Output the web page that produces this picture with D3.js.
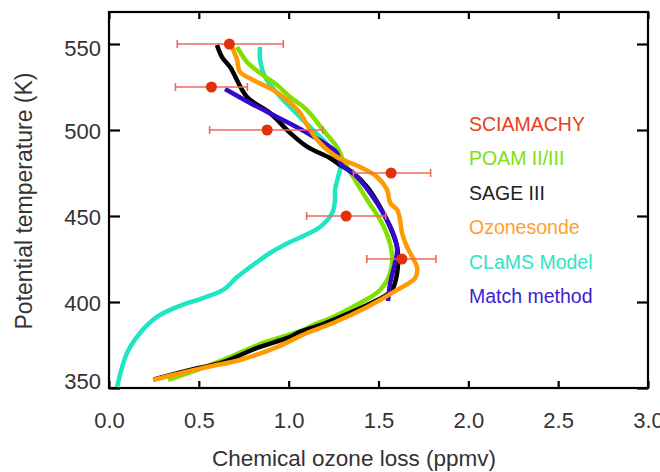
<!DOCTYPE html>
<html><head><meta charset="utf-8">
<script src="https://cdn.jsdelivr.net/npm/d3@7"></script>
<style>
html,body{margin:0;padding:0;background:#fff;}
svg{display:block;font-family:"Liberation Sans",Arial,Helvetica,sans-serif;}
</style></head>
<body>
<svg id="chart" width="660" height="472"></svg>
<script>
// ---- data ----
const xTicks = [0.0, 0.5, 1.0, 1.5, 2.0, 2.5, 3.0];
const yTicks = [350, 400, 450, 500, 550];

// SCIAMACHY: theta, loss, error low, error high
const sciaTheta = [550, 525, 500, 475, 450, 425];
const sciaLoss  = [0.67, 0.57, 0.88, 1.57, 1.32, 1.63];
const sciaLow   = [0.38, 0.37, 0.56, 1.36, 1.10, 1.435];
const sciaHigh  = [0.97, 0.77, 1.19, 1.79, 1.54, 1.82];

const poamLoss  = [0.713,0.768,0.841,0.935,1.008,1.102,1.192,1.269,1.303,1.359,1.437,1.509,1.553,1.576,1.565,1.509,1.398,1.247,1.136,1.080,0.857,0.674,0.490,0.329];
const poamTheta = [548.3,539.5,533.1,526.2,519.2,511.6,500.0,490.1,482.6,472.7,459.3,447.7,437.8,426.2,416.9,407.0,399.4,391.3,386.6,383.7,376.2,368.0,360.5,354.7];

const sageLoss  = [0.601,0.629,0.674,0.768,0.896,1.008,1.100,1.230,1.286,1.359,1.437,1.509,1.565,1.604,1.609,1.604,1.576,1.526,1.437,1.286,1.175,1.063,1.008,0.824,0.635,0.451,0.25];
const sageTheta = [549.4,542.4,536.6,519.2,509.9,498.3,490.5,483.7,479.7,475.0,466.9,455.2,443.6,432.0,424.4,416.9,407.0,402.9,398.3,391.3,386.6,382.6,379.7,373.3,365.1,360.5,355.0];

const sondeLoss  = [0.685,0.713,0.729,0.802,0.913,0.991,1.063,1.119,1.175,1.269,1.398,1.492,1.548,1.565,1.604,1.620,1.631,1.659,1.715,1.704,1.604,1.437,1.247,1.102,0.935,0.729,0.546,0.245];
const sondeTheta = [548.3,540.7,533.7,529.1,523.3,517.4,509.9,500.0,492.4,484.3,478.5,472.7,465.1,457.6,453.5,447.7,440.1,432.0,419.8,414.0,407.0,397.1,387.8,382.0,373.8,366.3,362.2,354.7];

const clamsLoss  = [0.841,0.841,0.869,0.935,1.024,1.119,1.192,1.247,1.286,1.275,1.258,1.258,1.242,1.175,1.063,0.980,0.896,0.785,0.713,0.635,0.523,0.379,0.267,0.173,0.100,0.045];
const clamsTheta = [548.3,540.7,530.8,521.5,511.6,501.7,494.2,486.6,478.5,472.7,465.1,459.3,451.7,443.6,437.5,433.5,428.5,420.3,414.5,407.0,402.3,397.1,391.3,382.0,370.3,350.6];

const matchLoss  = [0.646,0.785,0.935,1.102,1.269,1.286,1.381,1.453,1.526,1.581,1.604,1.592,1.565,1.553];
const matchTheta = [523.8,515.7,507.6,498.3,486.6,480.8,472.7,463.4,451.7,440.1,430.2,422.7,411.0,400.6];

const legendNames = ["SCIAMACHY", "POAM II/III", "SAGE III", "Ozonesonde", "CLaMS Model", "Match method"];
const legendColors = ["#e8401c", "#80e010", "#222222", "#ffa030", "#30e3c3", "#3a1ed2"];

// ---- chart ----
const svg = d3.select("#chart");
const L = 109, R = 648, T = 12, B = 388;
const x = d3.scaleLinear().domain([0, 3]).range([L, R]);
const y = d3.scaleLinear().domain([350, 568.6]).range([B, T]);

// frame
svg.append("rect").attr("x", L).attr("y", T).attr("width", R - L).attr("height", B - T)
  .attr("fill", "none").attr("stroke", "#000").attr("stroke-width", 2.2);

// ticks (inward)
const axB = d3.axisBottom(x).tickValues(xTicks).tickSizeInner(-7).tickSizeOuter(0).tickFormat(d3.format(".1f"));
const axT = d3.axisTop(x).tickValues(xTicks).tickSizeInner(-7).tickSizeOuter(0).tickFormat("");
const axL = d3.axisLeft(y).tickValues(yTicks).tickSizeInner(-11).tickSizeOuter(0).tickFormat(d3.format("d"));
const axR = d3.axisRight(y).tickValues(yTicks).tickSizeInner(-11).tickSizeOuter(0).tickFormat("");

function styleAxis(g){
  g.select(".domain").remove();
  g.selectAll(".tick line").attr("stroke", "#000").attr("stroke-width", 2.2);
  g.selectAll(".tick text").attr("fill", "#333").style("font-size", "22px");
}
svg.append("g").attr("transform", `translate(0,${B})`).call(axB).call(styleAxis)
  .selectAll(".tick text").attr("dy", null).attr("y", 40);
svg.append("g").attr("transform", `translate(0,${T})`).call(axT).call(styleAxis);
const gl = svg.append("g").attr("transform", `translate(${L},0)`).call(axL).call(styleAxis);
gl.selectAll(".tick text").attr("x", -8).attr("dy", "0.38em");
gl.selectAll(".tick").filter(d => d === 350).select("text").attr("y", -8);
gl.selectAll(".tick").filter(d => d === 550).select("text").attr("y", 3);
svg.append("g").attr("transform", `translate(${R},0)`).call(axR).call(styleAxis);

// axis titles
svg.append("text").attr("x", 354).attr("y", 466).attr("text-anchor", "middle")
  .attr("fill", "#333").style("font-size", "22.5px").text("Chemical ozone loss (ppmv)");
svg.append("text").attr("transform", "translate(32,201) rotate(-90)").attr("text-anchor", "middle")
  .attr("fill", "#333").style("font-size", "23px").text("Potential temperature (K)");

// lines
const line = d3.line().x(d => x(d[0])).y(d => y(d[1])).curve(d3.curveCatmullRom.alpha(0.5));
function series(loss, theta){ return loss.map((v, i) => [v, theta[i]]); }
const curves = [
  [series(clamsLoss, clamsTheta), "#1ee6c2"],
  [series(poamLoss, poamTheta), "#80e000"],
  [series(sageLoss, sageTheta), "#000000"],
  [series(matchLoss, matchTheta), "#3608cc"],
  [series(sondeLoss, sondeTheta), "#ff9a00"]
];
curves.forEach(([data, col]) => {
  svg.append("path").datum(data).attr("d", line).attr("fill", "none")
    .attr("stroke", col).attr("stroke-width", 4.5).attr("stroke-linejoin", "round");
});

// SCIAMACHY error bars and points
const eb = svg.append("g").attr("stroke", "#ee6a58").attr("stroke-width", 1.6);
sciaTheta.forEach((t, i) => {
  eb.append("line").attr("x1", x(sciaLow[i])).attr("x2", x(sciaHigh[i])).attr("y1", y(t)).attr("y2", y(t));
  eb.append("line").attr("x1", x(sciaLow[i])).attr("x2", x(sciaLow[i])).attr("y1", y(t) - 4).attr("y2", y(t) + 4);
  eb.append("line").attr("x1", x(sciaHigh[i])).attr("x2", x(sciaHigh[i])).attr("y1", y(t) - 4).attr("y2", y(t) + 4);
});
svg.append("g").selectAll("circle").data(sciaTheta).join("circle")
  .attr("cx", (t, i) => x(sciaLoss[i])).attr("cy", t => y(t)).attr("r", 5.5)
  .attr("fill", "#e42f0c");

// legend
svg.append("g").selectAll("text").data(legendNames).join("text")
  .attr("x", 469).attr("y", (d, i) => 124 + i * 34.4).attr("dy", "0.36em")
  .attr("fill", (d, i) => legendColors[i]).style("font-size", "19.5px").text(d => d);
</script>
</body></html>
